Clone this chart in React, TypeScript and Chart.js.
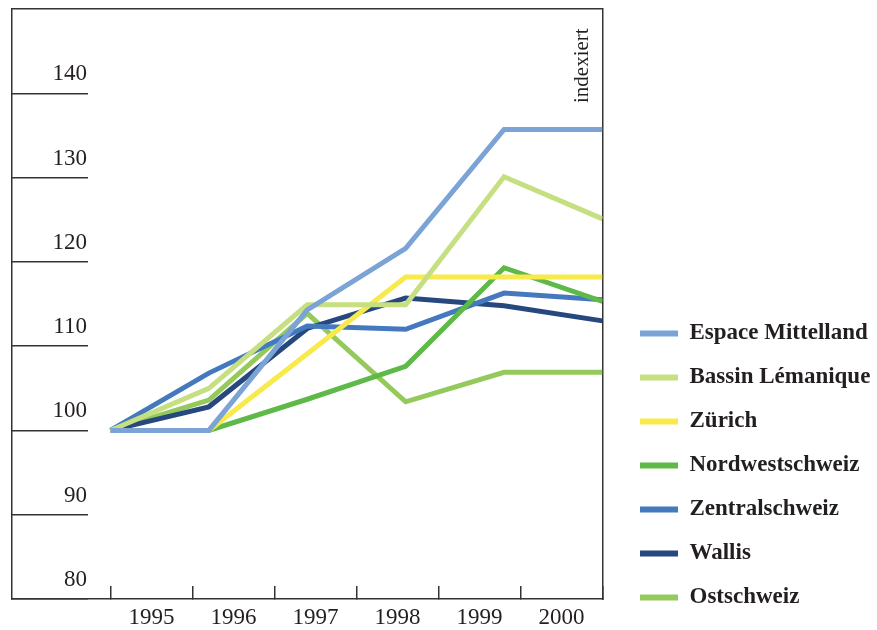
import React, { useEffect, useRef } from 'react';
import { Chart, registerables } from 'chart.js';

Chart.register(...registerables);

// ---------- data ----------
const years = [1995, 1996, 1997, 1998, 1999, 2000];
const yearLabels = ['1995', '1996', '1997', '1998', '1999', '2000'];
const yTickValues = [80, 90, 100, 110, 120, 130, 140];
const yMin = 80;
const yMax = 150;
const unitLabel = 'indexiert';

const seriesNames = [
  'Espace Mittelland',
  'Bassin Lémanique',
  'Zürich',
  'Nordwestschweiz',
  'Zentralschweiz',
  'Wallis',
  'Ostschweiz',
];

const espaceMittelland = [100, 100, 114.3, 121.6, 135.7, 135.7];
const bassinLemanique = [100, 105.0, 114.9, 114.9, 130.1, 125.1];
const zuerich = [100, 100, 109.1, 118.2, 118.2, 118.2];
const nordwestschweiz = [100, 100, 103.7, 107.6, 119.3, 115.3];
const zentralschweiz = [100, 106.8, 112.4, 112.0, 116.3, 115.5];
const wallis = [100, 102.8, 112.1, 115.7, 114.8, 113.0];
const ostschweiz = [100, 103.6, 113.9, 103.4, 106.9, 106.9];

const seriesValues = [
  espaceMittelland,
  bassinLemanique,
  zuerich,
  nordwestschweiz,
  zentralschweiz,
  wallis,
  ostschweiz,
];

const seriesColors = ['#7BA3D6', '#C6DF80', '#F7EA4A', '#5EB948', '#4479BE', '#27477F', '#94C95B'];

// ---------- style ----------
const FONT = "'Liberation Serif', 'Times New Roman', serif";
const TEXT = '#231f20';
const AXIS = '#333333';

const indexiertPlugin = {
  id: 'indexiert',
  afterDraw(chart: any) {
    const { ctx, chartArea } = chart;
    ctx.save();
    ctx.translate(chartArea.right - 15, chartArea.top + 94);
    ctx.rotate(-Math.PI / 2);
    ctx.font = `21px ${FONT}`;
    ctx.fillStyle = TEXT;
    ctx.textAlign = 'left';
    ctx.textBaseline = 'alphabetic';
    ctx.fillText(unitLabel, 0, 0);
    ctx.restore();
  },
};

export default function App() {
  const canvasRef = useRef<HTMLCanvasElement | null>(null);

  useEffect(() => {
    if (!canvasRef.current) return;
    const first = years[0];
    const last = years[years.length - 1];
    const band = (last - first) / yearLabels.length;

    const chart = new Chart(canvasRef.current, {
      type: 'line',
      data: {
        datasets: seriesNames.map((name, i) => ({
          label: name,
          data: years.map((yr, j) => ({ x: yr, y: seriesValues[i][j] })),
          borderColor: seriesColors[i],
          backgroundColor: seriesColors[i],
          borderWidth: 5,
          pointRadius: 0,
          pointHoverRadius: 0,
          tension: 0,
          fill: false,
          borderJoinStyle: 'miter',
          borderCapStyle: 'butt',
        })),
      },
      options: {
        animation: false,
        responsive: true,
        maintainAspectRatio: false,
        events: [],
        layout: { padding: { top: 9, left: 12, right: 0, bottom: 0 } },
        scales: {
          x: {
            type: 'linear',
            position: 'bottom',
            min: first - 1,
            max: last,
            afterBuildTicks: (scale: any) => {
              scale.ticks = yearLabels.map((_, i) => ({ value: first + (i + 0.5) * band }));
            },
            afterFit: (scale: any) => {
              scale.height = 31;
              scale.paddingLeft = 0;
              scale.paddingRight = 0;
            },
            ticks: {
              callback: (_v: any, i: number) => yearLabels[i],
              font: { family: FONT, size: 23 },
              color: TEXT,
              padding: 18,
              maxRotation: 0,
              autoSkip: false,
            },
            grid: {
              offset: true,
              drawOnChartArea: false,
              drawTicks: true,
              tickLength: -13,
              color: AXIS,
              lineWidth: 1.5,
            },
            border: { display: true, color: AXIS, width: 1.5 },
          },
          xTop: {
            type: 'linear',
            position: 'top',
            display: true,
            afterFit: (scale: any) => {
              scale.height = 0;
            },
            ticks: { display: false },
            grid: { drawOnChartArea: false, drawTicks: false },
            border: { display: true, color: AXIS, width: 1.5 },
          },
          y: {
            type: 'linear',
            position: 'left',
            min: yMin,
            max: yMax,
            afterBuildTicks: (scale: any) => {
              scale.ticks = yTickValues.map((v) => ({ value: v }));
            },
            afterFit: (scale: any) => {
              scale.width = 0;
              scale.paddingTop = 0;
              scale.paddingBottom = 0;
            },
            ticks: {
              mirror: true,
              crossAlign: 'far',
              padding: 40.5,
              labelOffset: -19,
              font: { family: FONT, size: 23 },
              color: TEXT,
            },
            grid: {
              drawOnChartArea: false,
              drawTicks: true,
              tickLength: -76,
              color: AXIS,
              lineWidth: 1.5,
            },
            border: { display: true, color: AXIS, width: 1.5 },
          },
          yRight: {
            type: 'linear',
            position: 'right',
            display: true,
            afterFit: (scale: any) => {
              scale.width = 16.5;
            },
            ticks: { display: false },
            grid: { drawOnChartArea: false, drawTicks: false },
            border: { display: true, color: AXIS, width: 1.5 },
          },
        },
        plugins: {
          tooltip: { enabled: false },
          legend: {
            display: true,
            position: 'right',
            align: 'end',
            maxWidth: 258,
            labels: {
              boxWidth: 38,
              boxHeight: 6,
              padding: 21,
              color: TEXT,
              font: { family: FONT, size: 23, weight: 'bold' },
              generateLabels: (c: any) =>
                Chart.defaults.plugins.legend.labels
                  .generateLabels(c)
                  .map((item: any) => ({
                    ...item,
                    fillStyle: seriesColors[item.datasetIndex],
                    strokeStyle: seriesColors[item.datasetIndex],
                    lineWidth: 0,
                  })),
            },
          },
        },
      },
      plugins: [indexiertPlugin],
    } as any);

    return () => chart.destroy();
  }, []);

  return (
    <div style={{ position: 'absolute', left: 0, top: 0, width: 877, height: 630 }}>
      <canvas ref={canvasRef} />
    </div>
  );
}
